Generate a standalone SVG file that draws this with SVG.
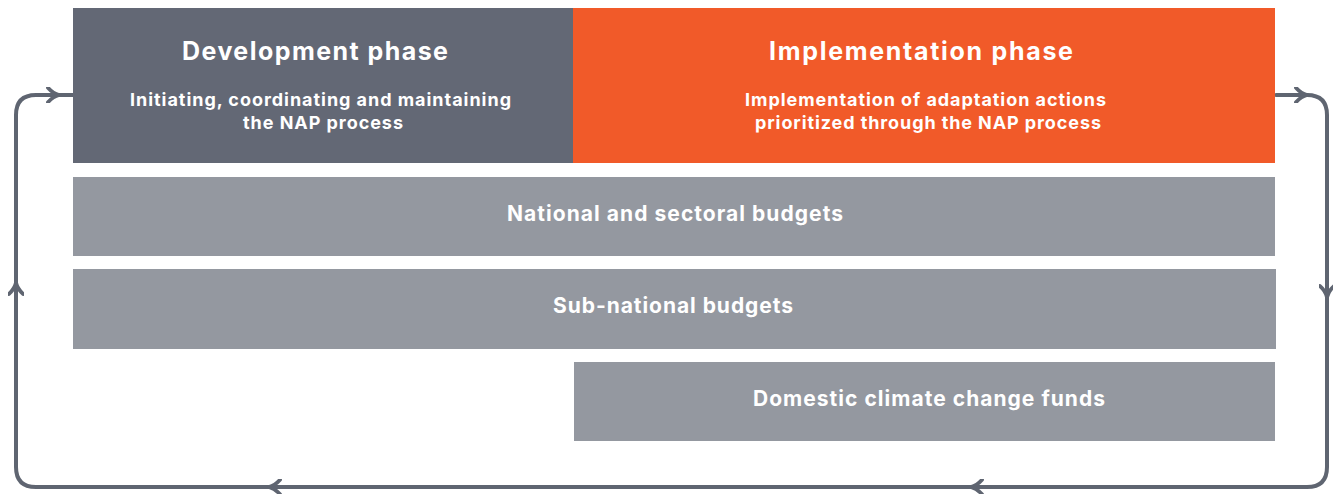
<svg xmlns="http://www.w3.org/2000/svg" width="1333" height="494" viewBox="0 0 1333 494">
<defs>
<style>
.t{font-family:Inter,"Liberation Sans",Arial,sans-serif;font-weight:bold;fill:#ffffff;text-anchor:middle}
.h{font-size:25px}
.s{font-size:18px}
.g{font-size:21px}
.bar{fill:#9498a0}
.ln{fill:none;stroke:#5f6571;stroke-width:4;stroke-linecap:round;stroke-linejoin:round}
</style>
<marker id="chev" viewBox="0 0 10 10" refX="6" refY="5" markerWidth="16" markerHeight="16" markerUnits="userSpaceOnUse" orient="auto">
<path d="M1,0.5 Q4,4 8,5 Q4,6 1,9.5" fill="none" stroke="#5f6571" stroke-width="2.4" stroke-linecap="round" stroke-linejoin="round"/>
</marker>
</defs>
<rect width="1333" height="494" fill="#ffffff"/>
<g id="connectors">
<path class="ln" d="M73,95 H36 Q16,95 16,115 V467 Q16,487 36,487 H1307 Q1327,487 1327,467 V115 Q1327,95 1307,95 H1276"/>
<path class="ln" d="M40,95 L56,95" marker-end="url(#chev)"/>
<path class="ln" d="M1290,95 L1304,95" marker-end="url(#chev)"/>
<path class="ln" d="M1327,280 L1327,294" marker-end="url(#chev)"/>
<path class="ln" d="M990,487 L974,487" marker-end="url(#chev)"/>
<path class="ln" d="M288,487 L272,487" marker-end="url(#chev)"/>
<path class="ln" d="M16,300 L16,286" marker-end="url(#chev)"/>
</g>
<g id="development">
<rect x="73" y="8" width="501" height="155" fill="#636875"/>
<text class="t h" x="315" y="60" textLength="266">Development phase</text>
<text class="t s" x="320.5" y="106" textLength="381">Initiating, coordinating and maintaining</text>
<text class="t s" x="323" y="129" textLength="160">the NAP process</text>
</g>
<g id="implementation">
<rect x="573" y="8" width="702" height="155" fill="#f15a29"/>
<text class="t h" x="921" y="60" textLength="304">Implementation phase</text>
<text class="t s" x="925.5" y="106" textLength="361">Implementation of adaptation actions</text>
<text class="t s" x="928" y="129" textLength="346">prioritized through the NAP process</text>
</g>
<g id="national">
<rect class="bar" x="73" y="177" width="1202" height="79"/>
<text class="t g" x="675" y="221" textLength="336">National and sectoral budgets</text>
</g>
<g id="subnational">
<rect class="bar" x="73" y="269" width="1203" height="80"/>
<text class="t g" x="673" y="313" textLength="240">Sub-national budgets</text>
</g>
<g id="domestic">
<rect class="bar" x="574" y="362" width="701" height="79"/>
<text class="t g" x="929" y="406" textLength="352">Domestic climate change funds</text>
</g>
</svg>
